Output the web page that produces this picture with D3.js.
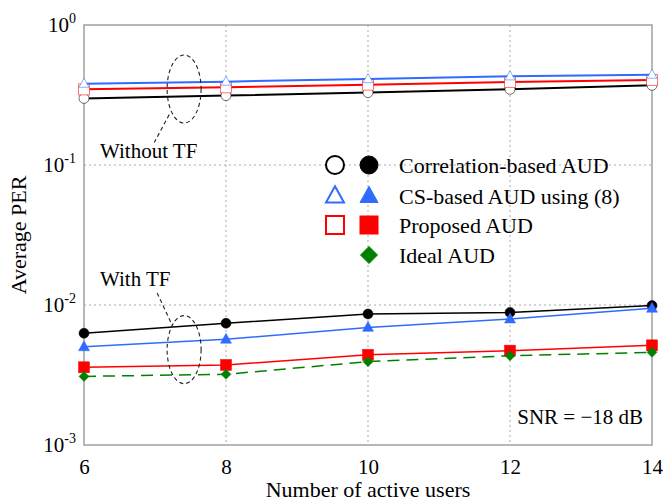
<!DOCTYPE html>
<html>
<head>
<meta charset="utf-8">
<script src="https://cdn.jsdelivr.net/npm/d3@7/dist/d3.min.js"></script>
<style>
  body { margin: 0; background: #fff; }
  text { font-family: "Liberation Serif", "Times New Roman", serif; fill: #000; }
</style>
</head>
<body>
<div id="chart"></div>
<script>
// number of active users
const users = [6, 8, 10, 12, 14];

// without TF
const corrNoTF = [0.299, 0.313, 0.329, 0.347, 0.371];
const csNoTF = [0.381, 0.394, 0.411, 0.43, 0.442];
const propNoTF = [0.347, 0.359, 0.375, 0.392, 0.405];

// with TF
const corrTF = [0.00628, 0.0074, 0.00863, 0.00885, 0.0099];
const csTF = [0.00503, 0.00569, 0.00692, 0.00794, 0.00947];
const propTF = [0.00359, 0.00373, 0.00441, 0.00472, 0.00515];
const idealTF = [0.00309, 0.0032, 0.00394, 0.00434, 0.00459];

const yTicks = [1e-3, 1e-2, 1e-1, 1];
const yTickExp = ["-3", "-2", "-1", "0"];

const legendLabels = ["Correlation-based AUD", "CS-based AUD using (8)", "Proposed AUD", "Ideal AUD"];

const width = 663, height = 502;
const margin = { top: 25, right: 11, bottom: 57, left: 84 };

const blue = "#2f6bff", red = "#ff0000", green = "#008000";

let svg = d3.select("#chart").append("svg")
  .attr("width", width)
  .attr("height", height);

let x = d3.scaleLinear().domain([6, 14]).range([margin.left, width - margin.right]);
let y = d3.scaleLog().domain([1e-3, 1]).range([height - margin.bottom, margin.top]);

// grille pointillée
svg.append("g")
  .selectAll("line")
  .data(users.slice(1, -1))
  .join("line")
  .attr("x1", d => x(d)).attr("x2", d => x(d))
  .attr("y1", y(1)).attr("y2", y(1e-3))
  .attr("stroke", "#aaa").attr("stroke-width", 1).attr("stroke-dasharray", "2,3");

svg.append("g")
  .selectAll("line")
  .data(yTicks.slice(1, -1))
  .join("line")
  .attr("x1", x(6)).attr("x2", x(14))
  .attr("y1", d => y(d)).attr("y2", d => y(d))
  .attr("stroke", "#aaa").attr("stroke-width", 1).attr("stroke-dasharray", "2,3");

// cadre
svg.append("rect")
  .attr("x", x(6)).attr("y", y(1))
  .attr("width", x(14) - x(6)).attr("height", y(1e-3) - y(1))
  .attr("fill", "none").attr("stroke", "#a0a0a0").attr("stroke-width", 1.5);

// étiquettes des axes
let xAxis = d3.axisBottom(x).tickValues(users).tickSize(0).tickPadding(14);
let gx = svg.append("g").attr("transform", `translate(0,${y(1e-3)})`).call(xAxis);
gx.select(".domain").remove();
gx.attr("font-family", null).attr("font-size", null);
gx.selectAll("text")
  .style("font-size", "21px").attr("fill", "#000");

let yLab = svg.append("g").selectAll("text")
  .data(yTicks)
  .join("text")
  .attr("x", margin.left - 8)
  .attr("y", d => y(d) + 7)
  .attr("text-anchor", "end")
  .style("font-size", "21px");
yLab.append("tspan").text("10");
yLab.append("tspan")
  .attr("dy", -9)
  .style("font-size", "14px")
  .text((d, i) => yTickExp[i]);

svg.append("text")
  .attr("x", (x(6) + x(14)) / 2)
  .attr("y", 497)
  .attr("text-anchor", "middle")
  .style("font-size", "22px")
  .text("Number of active users");

svg.append("text")
  .attr("transform", `translate(26,${(y(1) + y(1e-3)) / 2}) rotate(-90)`)
  .attr("text-anchor", "middle")
  .style("font-size", "22px")
  .text("Average PER");

// symboles
function marker(g, type, cx, cy, s, fill, stroke, sw) {
  let m;
  if (type === "circle") {
    m = g.append("circle").attr("cx", cx).attr("cy", cy).attr("r", s / 2);
  } else if (type === "square") {
    m = g.append("rect").attr("x", cx - s / 2).attr("y", cy - s / 2).attr("width", s).attr("height", s);
  } else if (type === "triangle") {
    let h = s * 0.9;
    m = g.append("path")
      .attr("d", `M${cx},${cy - h * 0.6}L${cx + s / 2},${cy + h * 0.4}L${cx - s / 2},${cy + h * 0.4}Z`);
  } else {
    m = g.append("path")
      .attr("d", `M${cx},${cy - s / 2}L${cx + s / 2},${cy}L${cx},${cy + s / 2}L${cx - s / 2},${cy}Z`);
  }
  return m.attr("fill", fill).attr("stroke", stroke).attr("stroke-width", sw);
}

let line = d3.line().x((d, i) => x(users[i])).y(d => y(d));

function drawSeries(values, color, type, open, lw, dash, size) {
  let g = svg.append("g");
  g.append("path")
    .datum(values)
    .attr("d", line)
    .attr("fill", "none")
    .attr("stroke", color)
    .attr("stroke-width", lw)
    .attr("stroke-dasharray", dash || null);
  values.forEach((v, i) => {
    if (open) {
      marker(g, type, x(users[i]), y(v), size, "#fff", color, 1).attr("stroke-opacity", 0.55);
    } else {
      marker(g, type, x(users[i]), y(v), size, color, color, 0.5);
    }
  });
}

// sans TF
drawSeries(corrNoTF, "#000", "circle", true, 2, null, 10);
drawSeries(propNoTF, red, "square", true, 2, null, 11);
drawSeries(csNoTF, blue, "triangle", true, 2, null, 10);

// avec TF
drawSeries(corrTF, "#000", "circle", false, 1.5, null, 10);
drawSeries(csTF, blue, "triangle", false, 1.5, null, 11);
drawSeries(propTF, red, "square", false, 1.5, null, 11);
drawSeries(idealTF, green, "diamond", false, 1.5, "12,7", 10);

// annotations
let ann = svg.append("g").attr("fill", "none").attr("stroke", "#222").attr("stroke-width", 1.1).attr("stroke-dasharray", "4,3");
ann.append("ellipse").attr("cx", x(7.41)).attr("cy", y(0.349)).attr("rx", 17).attr("ry", 34);
ann.append("line").attr("x1", x(7.2)).attr("y1", y(0.229)).attr("x2", x(6.99)).attr("y2", y(0.145));
ann.append("ellipse").attr("cx", x(7.41)).attr("cy", y(0.0048)).attr("rx", 17).attr("ry", 34);
ann.append("line").attr("x1", x(7.03)).attr("y1", y(0.0122)).attr("x2", x(7.24)).attr("y2", y(0.0072));

svg.append("text").attr("x", 100).attr("y", 158).style("font-size", "21px").text("Without TF");
svg.append("text").attr("x", 100).attr("y", 286).style("font-size", "21px").text("With TF");

svg.append("text").attr("x", 643).attr("y", 424).attr("text-anchor", "end")
  .style("font-size", "21px").text("SNR = \u221218 dB");

// légende
let leg = svg.append("g");
let legColors = ["#000", blue, red, green];
let legTypes = ["circle", "triangle", "square", "diamond"];
let legY = [165, 196, 225, 255];
legendLabels.forEach((lab, i) => {
  if (i < 3) marker(leg, legTypes[i], 335, legY[i], 18, "#fff", legColors[i], 2);
  marker(leg, legTypes[i], 369, legY[i], i === 3 ? 17 : 18, legColors[i], legColors[i], 1);
  leg.append("text").attr("x", 399).attr("y", legY[i] + 8).style("font-size", "22px").text(lab);
});
</script>
</body>
</html>
